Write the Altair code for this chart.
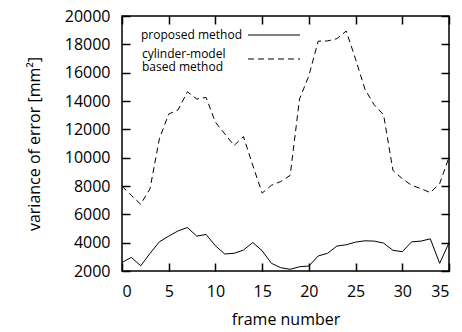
import altair as alt
import pandas as pd

frames = list(range(36))
proposed = [2600, 2960, 2370, 3240, 4060, 4460, 4830, 5070, 4460, 4580,
            3780, 3200, 3250, 3480, 4010, 3430, 2540, 2230, 2120, 2300,
            2350, 3060, 3250, 3760, 3850, 4040, 4130, 4110, 3970, 3460,
            3360, 4060, 4110, 4270, 2540, 3990]
cylinder = [7980, 7340, 6710, 7810, 11330, 13080, 13370, 14650, 14140, 14250,
            12500, 11680, 10860, 11490, 9450, 7500, 8050, 8320, 8750, 14140,
            15780, 18220, 18240, 18400, 18940, 16950, 14840, 13720, 13020, 9100,
            8520, 8050, 7810, 7530, 8170, 10030]
series_names = ["proposed method", "cylinder-model\nbased method"]
x_ticks = [0, 5, 10, 15, 20, 25, 30, 35]
y_ticks = [2000, 4000, 6000, 8000, 10000, 12000, 14000, 16000, 18000, 20000]

FONT = "Open Sans"
W, H = 327, 255

df_p = pd.DataFrame({"frame": frames, "value": proposed})
df_c = pd.DataFrame({"frame": frames, "value": cylinder})

xs = alt.Scale(domain=[0, 35], nice=False, zero=False)
ys = alt.Scale(domain=[2000, 20000], nice=False, zero=False)

common_axis = dict(domain=False, tickSize=8, tickWidth=1.5, tickColor="black",
                   offset=-8, grid=False, labelFont=FONT, labelFontSize=16,
                   labelColor="black", titleFont=FONT, titleFontSize=16,
                   titleFontWeight="normal", titleColor="black", format="d")

line_p = alt.Chart(df_p).mark_line(color="black", strokeWidth=1).encode(
    x=alt.X("frame:Q", scale=xs, axis=alt.Axis(values=x_ticks, orient="bottom",
            title="frame number", labelPadding=12, titlePadding=12, **common_axis)),
    y=alt.Y("value:Q", scale=ys, axis=alt.Axis(values=y_ticks, orient="left",
            title="variance of error [mm²]", labelPadding=12, titlePadding=22,
            **common_axis)),
)

line_c = alt.Chart(df_c).mark_line(color="black", strokeWidth=1,
                                   strokeDash=[6, 4]).encode(
    x=alt.X("frame:Q", scale=xs, axis=alt.Axis(values=x_ticks, orient="top",
            labels=False, title=None, **common_axis)),
    y=alt.Y("value:Q", scale=ys, axis=alt.Axis(values=y_ticks, orient="right",
            labels=False, title=None, **common_axis)),
)

one = pd.DataFrame({"k": [0]})
txt1 = alt.Chart(one).mark_text(align="left", baseline="middle", font=FONT,
                                fontSize=12, color="black").encode(
    x=alt.value(19), y=alt.value(19), text=alt.value(series_names[0]))
txt2 = alt.Chart(one).mark_text(align="left", baseline="middle", font=FONT,
                                fontSize=12, color="black", lineBreak="\n",
                                lineHeight=13).encode(
    x=alt.value(20), y=alt.value(38), text=alt.value(series_names[1]))
leg1 = alt.Chart(one).mark_rule(color="black", strokeWidth=1).encode(
    x=alt.value(126), x2=alt.value(178), y=alt.value(19))
leg2 = alt.Chart(one).mark_rule(color="black", strokeWidth=1,
                                strokeDash=[6, 4]).encode(
    x=alt.value(126), x2=alt.value(178), y=alt.value(43))

chart = alt.layer(line_p, line_c, txt1, txt2, leg1, leg2).resolve_axis(
    x="independent", y="independent"
).properties(
    width=W, height=H,
    autosize=alt.AutoSizeParams(type="none"),
    padding={"left": 114, "top": 8, "right": 5, "bottom": 60},
).configure_view(stroke="black", strokeWidth=1.5)

chart.save("out.html", embed_options={"renderer": "svg", "actions": False})
